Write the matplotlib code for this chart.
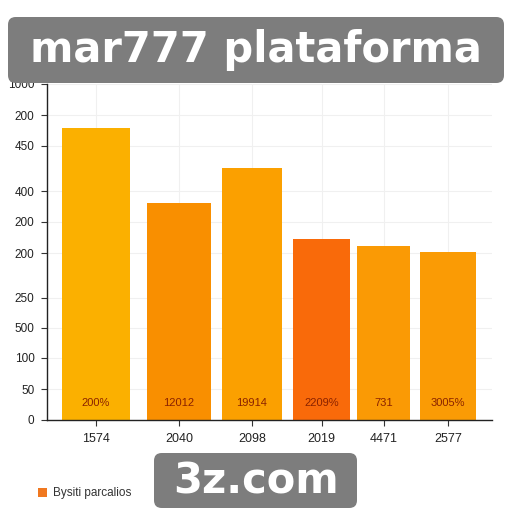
import matplotlib
matplotlib.use("Agg")
import matplotlib.pyplot as plt
from matplotlib.patches import FancyBboxPatch, Rectangle

categories = ["1574", "2040", "2098", "2019", "4471", "2577"]
values = [292, 217, 252, 181, 174, 168]
bar_labels = ["200%", "12012", "19914", "2209%", "731", "3005%"]
ytick_values = [0, 31, 62, 92, 122, 167, 198, 229, 274, 305, 336]
ytick_labels = ["0", "50", "100", "500", "250", "200", "200", "400", "450", "200", "1000"]
legend_label = "Bysiti parcalios"
title = "mar777 plataforma"
footer = "3z.com"

# layout (pixel-based x positions / widths)
x_pos = [96, 179, 252, 321.5, 383.5, 448]
widths = [68, 64, 60, 57, 53, 56]
colors = ["#FBB000", "#F98F00", "#FBA000", "#F96A0A", "#FA9A05", "#FA9B05"]

plt.rcParams["font.family"] = ["Liberation Sans", "DejaVu Sans"]

fig = plt.figure(figsize=(5.12, 5.12), dpi=100)
W = H = 512.0
ax = fig.add_axes([47 / W, (H - 420) / H, (492 - 47) / W, 336 / H])
ax.set_xlim(47, 492)
ax.set_ylim(0, 336)

ax.bar(x_pos, values, width=widths, color=colors, zorder=2)
for x, lab in zip(x_pos, bar_labels):
    ax.text(x, 17, lab, ha="center", va="center", fontsize=8, color="#8A2200", zorder=3)

ax.set_xticks(x_pos)
ax.set_xticklabels(categories, fontsize=9, color="#222222")
ax.set_yticks(ytick_values)
ax.set_yticklabels(ytick_labels, fontsize=8.5, color="#222222")
ax.tick_params(axis="both", length=4, width=0.8, color="#333333", pad=5)

for s in ["top", "right"]:
    ax.spines[s].set_visible(False)
for s in ["left", "bottom"]:
    ax.spines[s].set_color("#222222")
    ax.spines[s].set_linewidth(1.0)

ax.grid(True, color="#f0f0f0", linewidth=0.8, zorder=0)
ax.set_axisbelow(True)

# title banner
fig.patches.append(FancyBboxPatch((8 / W, (H - 83) / H), (504 - 8) / W, 66 / H,
                                  boxstyle="round,pad=0,rounding_size=0.015",
                                  transform=fig.transFigure, facecolor="#7d7d7d",
                                  edgecolor="none", zorder=5))
fig.text(256 / W, (H - 50) / H, title, ha="center", va="center", fontsize=30,
         fontweight="bold", family="DejaVu Sans", color="white", zorder=6)

# legend
fig.patches.append(Rectangle((38 / W, (H - 497) / H), 9 / W, 9 / H,
                             transform=fig.transFigure, facecolor="#F07820",
                             edgecolor="none", zorder=5))
fig.text(53 / W, (H - 493) / H, legend_label, ha="left", va="center", fontsize=8.5,
         color="#333333")

# footer banner
fig.patches.append(FancyBboxPatch((154 / W, (H - 508) / H), (357 - 154) / W, 55 / H,
                                  boxstyle="round,pad=0,rounding_size=0.015",
                                  transform=fig.transFigure, facecolor="#7d7d7d",
                                  edgecolor="none", zorder=5))
fig.text(256 / W, (H - 481) / H, footer, ha="center", va="center", fontsize=30,
         fontweight="bold", family="DejaVu Sans", color="white", zorder=6)

fig.savefig("out.png", dpi=100)
